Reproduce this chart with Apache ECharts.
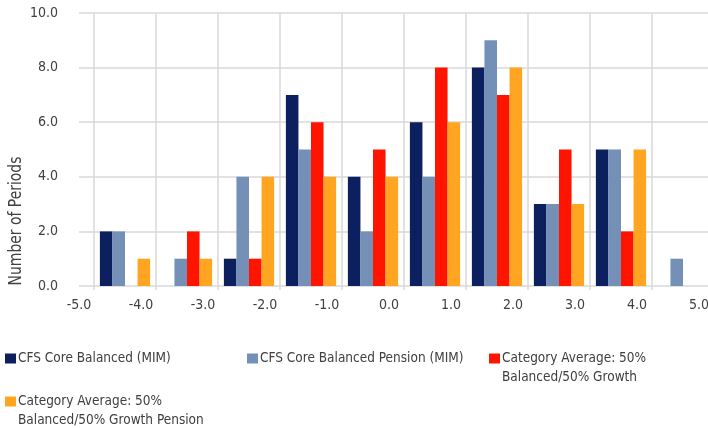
<!DOCTYPE html>
<html>
<head>
<meta charset="utf-8">
<script src="https://cdn.jsdelivr.net/npm/echarts@6/dist/echarts.min.js"></script>
<style>
  html, body { margin: 0; padding: 0; background: #fff; }
  #container { width: 708px; height: 428px; }
</style>
</head>
<body>
<div id="container"></div>
<script>
// histogram bins (centre of each 1.0 wide bin)
var bins = ['-4.5', '-3.5', '-2.5', '-1.5', '-0.5', '0.5', '1.5', '2.5', '3.5', '4.5'];
// series names
var names = [
    'CFS Core Balanced (MIM)',
    'CFS Core Balanced Pension (MIM)',
    'Category Average: 50%\nBalanced/50% Growth',
    'Category Average: 50%\nBalanced/50% Growth Pension'
];
// number of periods per bin
var coreBalanced = [2, 0, 1, 7, 4, 6, 8, 3, 5, 0];
var corePension = [2, 1, 4, 5, 2, 4, 9, 3, 5, 1];
var catAverage = [0, 2, 1, 6, 5, 8, 7, 5, 2, 0];
var catPension = [1, 1, 4, 4, 4, 6, 8, 3, 5, 0];

var colors = ['#0C1F5E', '#7490B6', '#FF1400', '#FFA521'];
var font = '"DejaVu Sans Condensed", "Liberation Sans Narrow", sans-serif';
var textColor = '#404040';
var gridColor = '#D9D9D9';

// one legend per item so they can sit where the original puts them
// two-line items get a taller icon box whose visible square sits at the top
function legendItem(i, left, top) {
    var multi = names[i].indexOf('\n') >= 0;
    return {
        data: [names[i]],
        left: left,
        top: top,
        padding: 0,
        itemWidth: 11,
        itemHeight: multi ? 29 : 10,
        icon: multi ? 'path://M0,0H11V10H0ZM11,29L11,29' : 'rect',
        selectedMode: false,
        textStyle: {
            fontFamily: font,
            fontSize: 13.5,
            color: textColor,
            lineHeight: 19,
            padding: [0, 0, 0, -3]
        }
    };
}

var dom = document.getElementById('container');
var myChart = echarts.init(dom);
var option = {
    animation: false,
    color: colors,
    grid: [
        // grid for y gridlines and tick labels
        {left: 79, top: 13, width: 651, height: 273, outerBoundsMode: 'none'},
        // grid for the bars
        {left: 94, top: 13, width: 620, height: 273, outerBoundsMode: 'none'}
    ],
    legend: [
        legendItem(0, 5, 349),
        legendItem(1, 247, 349),
        legendItem(2, 489, 349),
        legendItem(3, 5, 392)
    ],
    graphic: [{
        type: 'text',
        x: 16,
        y: 221,
        rotation: Math.PI / 2,
        scaleX: 0.86,
        style: {
            text: 'Number of Periods',
            fontFamily: font,
            fontSize: 18,
            fill: textColor,
            textAlign: 'center',
            textVerticalAlign: 'middle'
        }
    }],
    xAxis: [
        {
            gridIndex: 0,
            type: 'value',
            min: -5,
            max: 5.5,
            interval: 1,
            axisLine: {show: false},
            axisTick: {show: false},
            splitLine: {show: false},
            axisLabel: {
                showMaxLabel: false,
                margin: 12,
                fontFamily: font,
                fontSize: 14,
                color: textColor,
                formatter: function (v) { return v.toFixed(1); }
            }
        },
        {
            gridIndex: 1,
            type: 'category',
            data: bins,
            axisLine: {show: false},
            axisLabel: {show: false},
            axisTick: {show: true, length: 4, lineStyle: {color: gridColor, width: 1.5}},
            splitLine: {show: true, lineStyle: {color: gridColor, width: 1.5}}
        }
    ],
    yAxis: [
        {
            gridIndex: 0,
            type: 'value',
            min: 0,
            max: 10,
            interval: 2,
            axisLine: {show: false},
            axisTick: {show: false},
            splitLine: {show: true, lineStyle: {color: gridColor, width: 1.5}},
            axisLabel: {
                margin: 21,
                fontFamily: font,
                fontSize: 14,
                color: textColor,
                formatter: function (v) { return v.toFixed(1); }
            }
        },
        {gridIndex: 1, type: 'value', min: 0, max: 10, show: false}
    ],
    series: [
        {name: names[0], type: 'bar', xAxisIndex: 1, yAxisIndex: 1, data: coreBalanced, barGap: 0, barCategoryGap: '19%'},
        {name: names[1], type: 'bar', xAxisIndex: 1, yAxisIndex: 1, data: corePension, barGap: 0, barCategoryGap: '19%'},
        {name: names[2], type: 'bar', xAxisIndex: 1, yAxisIndex: 1, data: catAverage, barGap: 0, barCategoryGap: '19%'},
        {name: names[3], type: 'bar', xAxisIndex: 1, yAxisIndex: 1, data: catPension, barGap: 0, barCategoryGap: '19%'}
    ]
};
myChart.setOption(option);
</script>
</body>
</html>
